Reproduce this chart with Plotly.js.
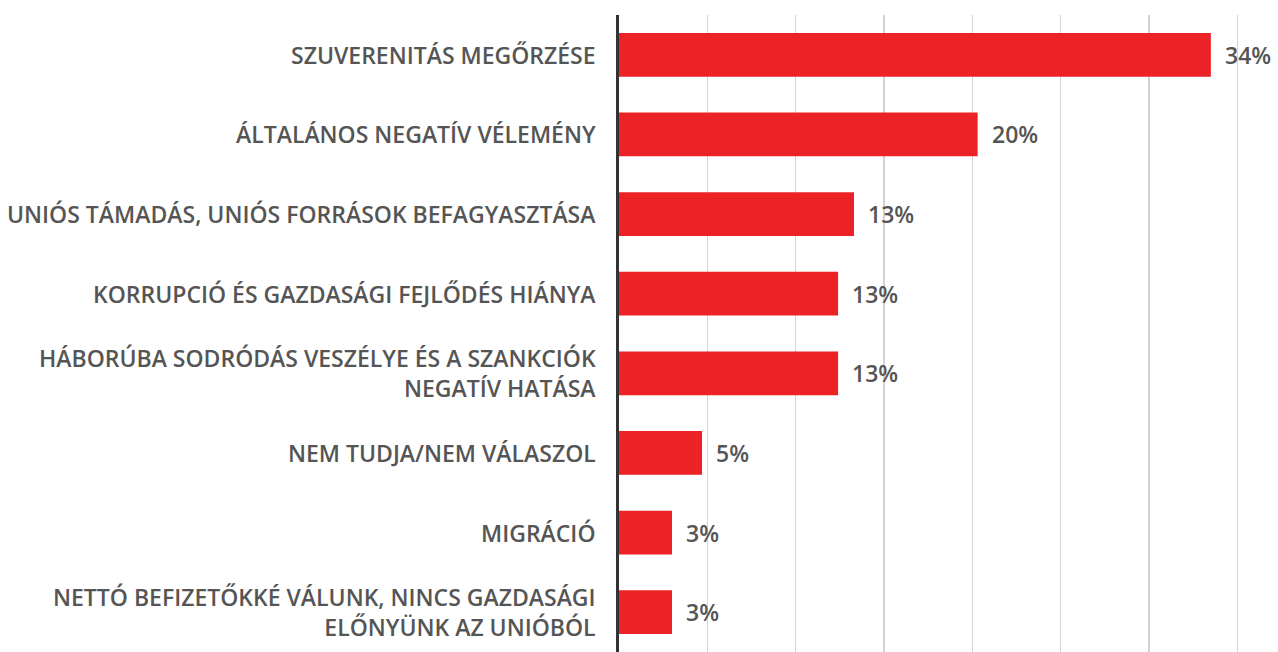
<!DOCTYPE html>
<html>
<head>
<meta charset="utf-8">
<script src="https://cdn.plot.ly/plotly-3.0.1.min.js"></script>
<style>html,body{margin:0;padding:0;background:#fff;}#chart{width:1278px;height:652px;}</style>
</head>
<body>
<div id="chart"></div>
<script>
const categories = [
  "SZUVERENITÁS MEGŐRZÉSE",
  "ÁLTALÁNOS NEGATÍV VÉLEMÉNY",
  "UNIÓS TÁMADÁS, UNIÓS FORRÁSOK BEFAGYASZTÁSA",
  "KORRUPCIÓ ÉS GAZDASÁGI FEJLŐDÉS HIÁNYA",
  "HÁBORÚBA SODRÓDÁS VESZÉLYE ÉS A SZANKCIÓK<br>NEGATÍV HATÁSA",
  "NEM TUDJA/NEM VÁLASZOL",
  "MIGRÁCIÓ",
  "NETTÓ BEFIZETŐKKÉ VÁLUNK, NINCS GAZDASÁGI<br>ELŐNYÜNK AZ UNIÓBÓL"
];
const values = [33.5, 20.3, 13.3, 12.4, 12.4, 4.7, 3.0, 3.0];
const valueLabels = ["34%", "20%", "13%", "13%", "13%", "5%", "3%", "3%"];

const textColor = "#555555";
const fontFamily = "'Open Sans', Roboto, sans-serif";
const labelFont = {family: fontFamily, size: 23, color: textColor, weight: 600};

const trace = {
  type: "bar",
  orientation: "h",
  y: categories,
  x: values,
  width: 0.55,
  marker: {color: "#EC2227", line: {width: 0}},
  hoverinfo: "skip"
};

const annotations = [];
categories.forEach((c, i) => {
  annotations.push({
    x: values[i], y: c, xref: "x", yref: "y",
    text: valueLabels[i], showarrow: false,
    xanchor: "left", yanchor: "middle", xshift: 12,
    font: labelFont
  });
  annotations.push({
    x: 0, y: c, xref: "paper", yref: "y",
    text: c, showarrow: false, align: "right",
    xanchor: "right", yanchor: "middle", xshift: -21,
    font: labelFont
  });
});

const layout = {
  width: 1278, height: 652,
  margin: {l: 619, r: 0, t: 15, b: 0, pad: 0},
  paper_bgcolor: "#ffffff", plot_bgcolor: "#ffffff",
  showlegend: false,
  bargap: 0.45,
  xaxis: {
    range: [0, 37.3], dtick: 5, tick0: 0,
    showgrid: true, gridcolor: "#d3d3d3", gridwidth: 1.5,
    zeroline: false, showticklabels: false, ticks: "",
    showline: false, fixedrange: true
  },
  yaxis: {
    autorange: "reversed",
    showgrid: false, zeroline: false,
    showline: true, linecolor: "#333333", linewidth: 3,
    ticks: "", showticklabels: false,
    fixedrange: true
  },
  annotations: annotations
};

Plotly.newPlot("chart", [trace], layout, {displayModeBar: false, staticPlot: true});
</script>
</body>
</html>
